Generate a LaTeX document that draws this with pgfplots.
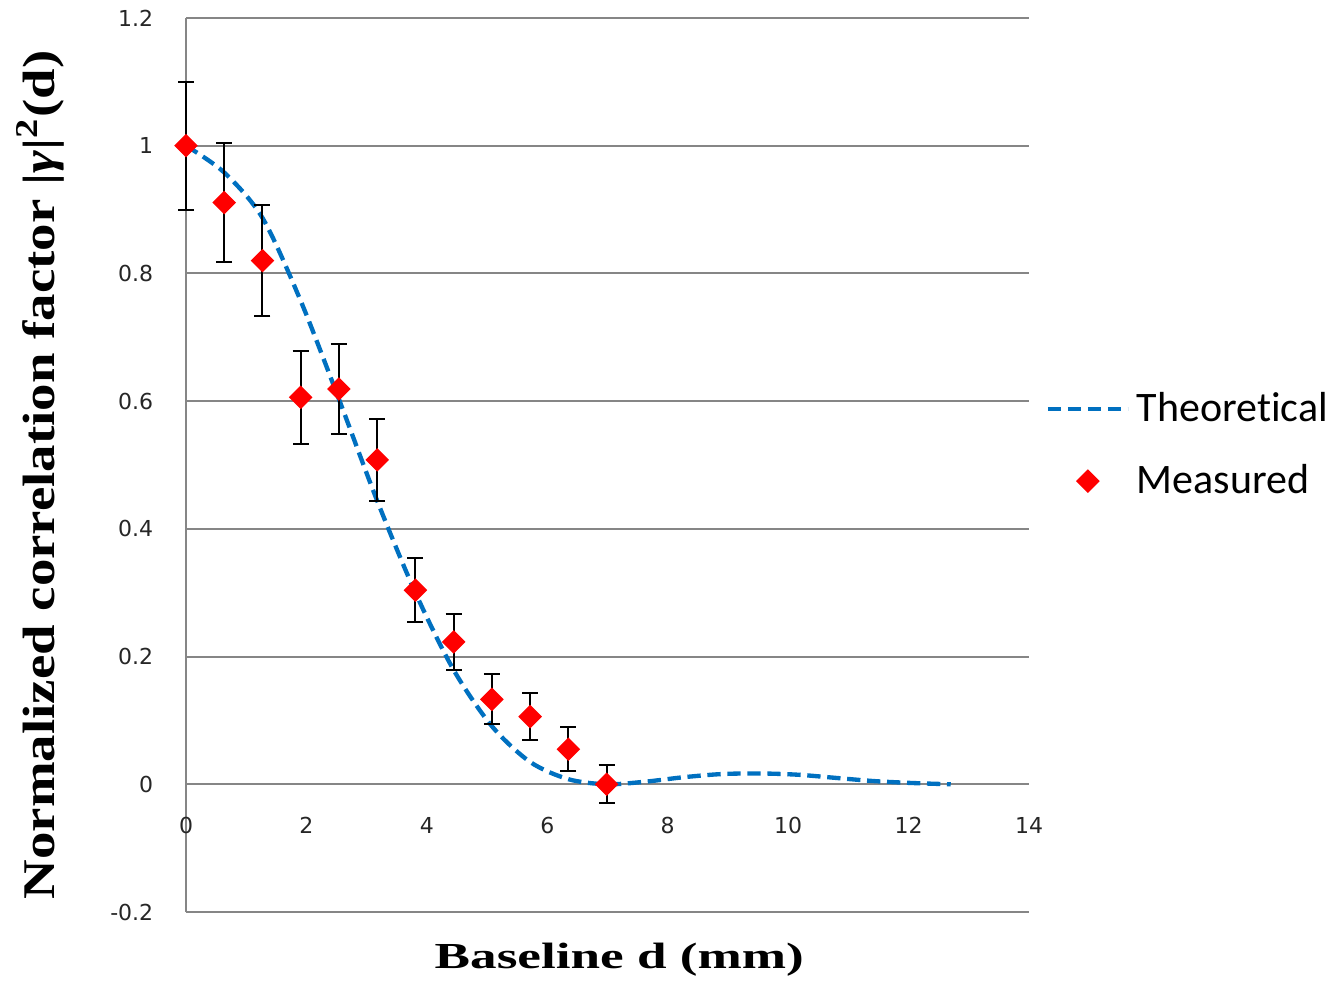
\documentclass[border=0pt]{standalone}
\usepackage{graphicx}
\usepackage{pgfplots}
\usepackage{pgfplotstable}
\pgfplotsset{compat=1.18}
\usepackage{fontspec}
\setmainfont{Liberation Serif}
\newfontfamily\tickfont{DejaVu Sans}
\newfontfamily\legfont{Carlito}[Ligatures=NoCommon]
\definecolor{theo}{RGB}{0,112,192}
\definecolor{gridgray}{RGB}{134,134,134}

\pgfplotsset{
 linelegend/.style={legend image code/.code={\draw[##1] (0pt,0pt) -- (24pt,0pt);}},
 marklegend/.style={legend image code/.code={\draw[##1] plot coordinates {(12pt,0pt)};}},
}

% measured points with their error bars
\pgfplotstableread{
x y e
0.000 1.000 0.100
0.635 0.911 0.093
1.270 0.820 0.087
1.905 0.606 0.073
2.540 0.619 0.071
3.175 0.508 0.064
3.810 0.304 0.050
4.445 0.223 0.044
5.080 0.133 0.039
5.715 0.106 0.037
6.350 0.055 0.034
6.985 0.000 0.030
}\measured

% theoretical curve
\pgfplotstableread{
x y
0.000 1.000
0.635 0.958
1.270 0.887
1.905 0.757
2.540 0.603
3.175 0.444
3.810 0.300
4.445 0.179
5.080 0.091
5.715 0.035
6.350 0.008
6.985 0.000
7.620 0.004
8.255 0.011
8.890 0.016
9.525 0.017
10.160 0.015
10.795 0.010
11.430 0.005
12.065 0.002
12.700 0.000
}\theory

\begin{document}
\begin{tikzpicture}
\useasboundingbox (-55.8pt,-21pt) rectangle (344.4pt,273.6pt);
\begin{axis}[
 scale only axis,
 width=252.9pt, height=268.2pt,
 xmin=0, xmax=14, ymin=-0.2, ymax=1.2,
 xtick={0,2,4,6,8,10,12,14},
 ytick={-0.2,0,0.2,0.4,0.6,0.8,1,1.2},
 axis lines=left,
 axis line style={gridgray, line width=0.6pt, -},
 ymajorgrids,
 grid style={gridgray, line width=0.6pt},
 major tick length=0pt,
 clip=false,
 /pgf/number format/assume math mode=true,
 tick label style={font=\tickfont\fontsize{6.6}{7.5}\selectfont, text=black!85},
 yticklabel style={xshift=-6.3pt},
 xticklabel style={yshift=32pt},
 xlabel={\fontsize{11}{13}\selectfont\bfseries\scalebox{1.45}[1]{Baseline d (mm)}},
 ylabel={\fontsize{13.6}{16}\selectfont\bfseries\scalebox{1.21}[1]{Normalized correlation factor |\textit{γ}|\textsuperscript{2}(d)}},
 xlabel style={at={(axis description cs:0.514,-0.053)}, anchor=center},
 ylabel style={at={(axis description cs:-0.173,0.489)}, anchor=center},
 legend style={at={(axis description cs:1.019,0.59)}, anchor=north west,
   draw=none, fill=none, inner sep=0pt, row sep=7.4pt,
   font=\legfont\fontsize{12.6}{15}\selectfont},
 legend cell align=left,
]
\addplot[theo, line width=1.3pt, dash pattern=on 4pt off 2pt, smooth, linelegend]
  table[x=x, y=y] {\theory};
\addlegendentry{Theoretical}

\addplot[red, only marks, mark=square*, mark size=2.3pt,
  mark options={red, rotate=45}, marklegend,
  error bars/.cd, y dir=both, y explicit,
  error bar style={black, line width=0.6pt},
  error mark options={rotate=90, black, mark size=2.4pt, line width=0.6pt}]
  table[x=x, y=y, y error=e] {\measured};
\addlegendentry{Measured}
\end{axis}
\end{tikzpicture}
\end{document}
